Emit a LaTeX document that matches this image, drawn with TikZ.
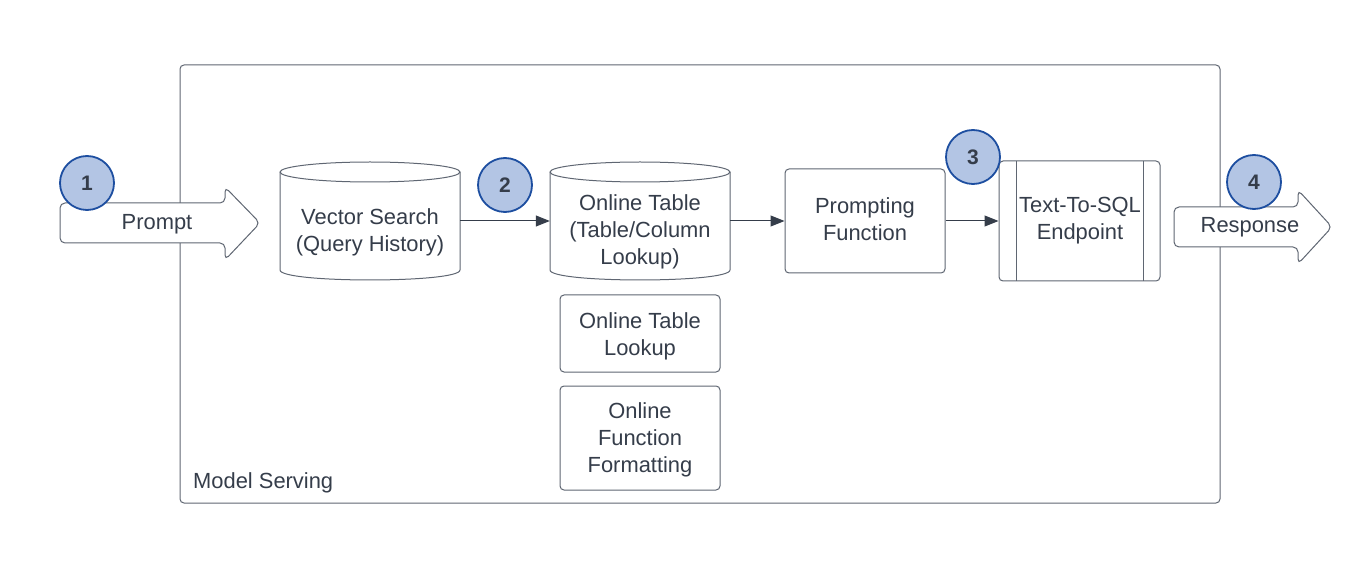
\documentclass[tikz,border=0pt]{standalone}
\usepackage{fontspec}
\setmainfont{Liberation Sans}
\usetikzlibrary{arrows.meta}
\definecolor{txt}{HTML}{353D4A}
\definecolor{ln}{HTML}{5F6672}
\definecolor{cfill}{HTML}{B3C5E4}
\definecolor{cline}{HTML}{1D4EA0}
\tikzset{
  lbl/.style={font=\fontsize{21.9}{26.8}\selectfont, text=txt, align=center, inner sep=0pt},
  shp/.style={draw=ln, line width=1pt, fill=white},
  boxnode/.style={shp, rounded corners=4pt, inner sep=0pt},
  numc/.style={circle, draw=cline, line width=1.8pt, fill=cfill, minimum size=54pt, inner sep=0pt,
     text=txt, font=\fontsize{21}{21}\selectfont\bfseries},
  conn/.style={draw=txt, line width=1pt, -{Triangle[length=14pt,width=11pt]}},
}
\begin{document}
\begin{tikzpicture}[x=1pt,y=-1pt]
\useasboundingbox (0,0) rectangle (1371,569);
% frame
\draw[draw=ln, line width=1pt, rounded corners=4pt] (180,65) rectangle (1220,503);
\node[lbl, anchor=west] (ms) at (193,482.5) {Model Serving};

% prompt arrow
\draw[shp, rounded corners=5pt] (60,203) -- (225,203) -- (225,187) -- (260,223) -- (225,260) -- (225,243) -- (60,243) -- cycle;
\node[lbl] (prompt) at (157,224.5) {Prompt};

% response arrow
\draw[shp, rounded corners=5pt] (1174,207) -- (1298,207) -- (1298,190) -- (1332,227) -- (1298,264) -- (1298,247) -- (1174,247) -- cycle;
\node[lbl] (resp) at (1250,227.5) {Response};

% vector search cylinder
\draw[shp] (280,172) -- (280,270) .. controls (280,283.3) and (460,283.3) .. (460,270) -- (460,172);
\draw[shp] (370,172) ellipse [x radius=90, y radius=10];
\node[minimum width=180pt, minimum height=118pt, inner sep=0pt] (vs) at (370,221) {};
\node[lbl] (vst) at (370,232) {Vector Search\\(Query History)};

% online table cylinder
\draw[shp] (550,172) -- (550,270) .. controls (550,283.3) and (730,283.3) .. (730,270) -- (730,172);
\draw[shp] (640,172) ellipse [x radius=90, y radius=10];
\node[minimum width=180pt, minimum height=118pt, inner sep=0pt] (ot) at (640,221) {};
\node[lbl] (ott) at (640,232) {Online Table\\(Table/Column\\Lookup)};

% prompting function
\node[boxnode, minimum width=160pt, minimum height=104pt] (pf) at (865,221) {};
\node[lbl] (pft) at (865,219.5) {Prompting\\Function};

% text-to-sql
\node[boxnode, minimum width=161pt, minimum height=120pt] (ts) at (1079.5,221) {};
\draw[draw=ln, line width=1pt] (1016,161) -- (1016,281) (1143,161) -- (1143,281);
\node[lbl] (tst) at (1080,220.5) {Text-To-SQL\\Endpoint};

% lower boxes
\node[boxnode, minimum width=160pt, minimum height=77pt] (otl) at (640,333.5) {};
\node[lbl] (otlt) at (640,336) {Online Table\\Lookup};
\node[boxnode, minimum width=160pt, minimum height=104pt] (off) at (640,438) {};
\node[lbl] (offt) at (640,440) {Online\\Function\\Formatting};

% connectors
\draw[conn] (vs.east) -- (ot.west);
\draw[conn] (ot.east) -- (pf.west);
\draw[conn] (pf.east) -- (ts.west);

% numbered circles
\node[numc] (n1) at (87,183) {1};
\node[numc] (n2) at (505,185) {2};
\node[numc] (n3) at (973,157) {3};
\node[numc] (n4) at (1254,182) {4};
\end{tikzpicture}
\end{document}
